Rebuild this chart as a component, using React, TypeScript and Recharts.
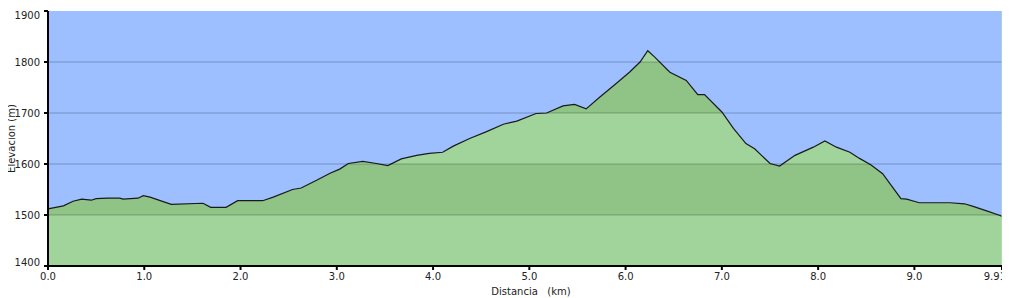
import React from 'react';
import { ComposedChart, Area, XAxis, YAxis, CartesianGrid, ReferenceLine } from 'recharts';

const distanceKm = [0, 0.16, 0.26, 0.35, 0.45, 0.5, 0.62, 0.745, 0.78, 0.935, 0.99, 1.06, 1.28, 1.61, 1.69, 1.85, 1.97, 2.23, 2.34, 2.54, 2.63, 2.79, 2.93, 3.03, 3.12, 3.27, 3.41, 3.53, 3.67, 3.83, 3.96, 4.1, 4.21, 4.38, 4.55, 4.73, 4.87, 5.07, 5.18, 5.35, 5.47, 5.59, 5.73, 5.89, 6.04, 6.15, 6.23, 6.3, 6.46, 6.63, 6.75, 6.82, 7.0, 7.12, 7.25, 7.34, 7.5, 7.6, 7.76, 7.95, 8.07, 8.19, 8.33, 8.43, 8.55, 8.67, 8.86, 8.92, 9.05, 9.12, 9.37, 9.52, 9.61, 9.75, 9.89, 9.91];
const elevationM = [1512, 1518, 1527, 1531, 1529, 1532, 1533, 1533, 1531, 1533, 1538, 1535, 1521, 1523, 1515, 1515, 1528, 1528, 1535, 1550, 1553, 1568, 1582, 1590, 1601, 1605, 1601, 1597, 1610, 1617, 1621, 1623, 1635, 1650, 1663, 1678, 1684, 1699, 1700, 1714, 1717, 1708, 1731, 1756, 1780, 1800, 1822, 1810, 1780, 1764, 1736, 1736, 1702, 1670, 1640, 1630, 1601, 1596, 1617, 1633, 1645, 1633, 1623, 1611, 1598, 1581, 1532, 1531, 1524, 1524, 1524, 1522, 1517, 1508, 1499, 1497];

const xTicks = [0, 1, 2, 3, 4, 5, 6, 7, 8, 9, 9.91];
const yTicks = [1400, 1500, 1600, 1700, 1800, 1900];
const gridLines = [1500, 1600, 1700, 1800];

const data = distanceKm.map((d, i) => ({ d, e: elevationM[i] }));

const W = 1010;
const H = 298;
const M = { top: 11, right: 8, left: 0, bottom: 0 };
const X_AXIS_H = 32;
const Y_AXIS_W = 48;
const PLOT_TOP = M.top;
const PLOT_BOTTOM = H - M.bottom - X_AXIS_H;
const FONT = 'DejaVu Sans, Verdana, sans-serif';

const LIGHT = '#a1d49b';
const DARK = '#90c487';

const XTick = (props: any) => {
  const { x, y, payload } = props;
  const v = payload.value;
  const last = v === xTicks[xTicks.length - 1];
  const label = last ? String(v) : v.toFixed(1);
  return (
    <text x={last ? x + 4 : x} y={y + 7} textAnchor={last ? 'end' : 'middle'} fontSize={10} fontFamily={FONT} fill="#222">
      {label}
    </text>
  );
};

const YTick = (props: any) => {
  const { x, y, payload } = props;
  const v = payload.value;
  let dy = 0;
  if (v === yTicks[yTicks.length - 1]) dy = 4;
  if (v === yTicks[0]) dy = -4;
  return (
    <text x={x} y={y + dy + 3.5} textAnchor="end" fontSize={10} fontFamily={FONT} fill="#222">
      {v}
    </text>
  );
};

export default function App() {
  const frac = (v: number) => (1900 - v) / 500;
  return (
    <div style={{ margin: '-8px 0 0 -8px', width: W, height: H }}>
      <ComposedChart width={W} height={H} data={data} margin={M}>
        <defs>
          <linearGradient id="bands" gradientUnits="userSpaceOnUse" x1="0" x2="0" y1={PLOT_TOP} y2={PLOT_BOTTOM}>
            <stop offset={0} stopColor={LIGHT} />
            <stop offset={frac(1800)} stopColor={LIGHT} />
            <stop offset={frac(1800)} stopColor={DARK} />
            <stop offset={frac(1700)} stopColor={DARK} />
            <stop offset={frac(1700)} stopColor={LIGHT} />
            <stop offset={frac(1600)} stopColor={LIGHT} />
            <stop offset={frac(1600)} stopColor={DARK} />
            <stop offset={frac(1500)} stopColor={DARK} />
            <stop offset={frac(1500)} stopColor={LIGHT} />
            <stop offset={1} stopColor={LIGHT} />
          </linearGradient>
        </defs>
        <CartesianGrid fill="#9dbfff" stroke="none" horizontal={false} vertical={false} />
        <XAxis
          dataKey="d"
          type="number"
          domain={[0, 9.91]}
          ticks={xTicks}
          interval={0}
          height={X_AXIS_H}
          axisLine={{ stroke: '#000', strokeWidth: 2 }}
          tickLine={{ stroke: '#000', strokeWidth: 2 }}
          tickSize={4}
          tickMargin={3}
          tick={<XTick />}
          label={{
            content: (p: any) => {
              const vb = p.viewBox;
              return (
                <text x={vb.x + vb.width / 2 + 6} y={vb.y + 29} textAnchor="middle" fontSize={10} fontFamily={FONT} fill="#222">
                  {'Distancia\u00a0\u00a0\u00a0(km)'}
                </text>
              );
            },
          }}
        />
        <YAxis
          type="number"
          domain={[1400, 1900]}
          ticks={yTicks}
          interval={0}
          width={Y_AXIS_W}
          axisLine={{ stroke: '#000', strokeWidth: 2 }}
          tickLine={{ stroke: '#000', strokeWidth: 2 }}
          tickSize={4}
          tickMargin={4}
          tick={<YTick />}
          label={{
            content: (p: any) => {
              const cx = 14.5;
              const cy = 138.5;
              return (
                <text x={cx} y={cy} transform={`rotate(-90, ${cx}, ${cy})`} textAnchor="middle" fontSize={10} fontFamily={FONT} fill="#222">
                  Elevación (m)
                </text>
              );
            },
          }}
        />
        <Area
          type="linear"
          dataKey="e"
          stroke="#1a1a1a"
          strokeWidth={1.2}
          fill="url(#bands)"
          fillOpacity={1}
          baseValue={1400}
          isAnimationActive={false}
          dot={false}
          activeDot={false}
        />
        {gridLines.map((g) => (
          <ReferenceLine key={g} y={g} stroke="#000" strokeOpacity={0.12} strokeWidth={2} />
        ))}
        <ReferenceLine x={9.91} stroke="#b9e0b0" strokeWidth={1} />
      </ComposedChart>
    </div>
  );
}
